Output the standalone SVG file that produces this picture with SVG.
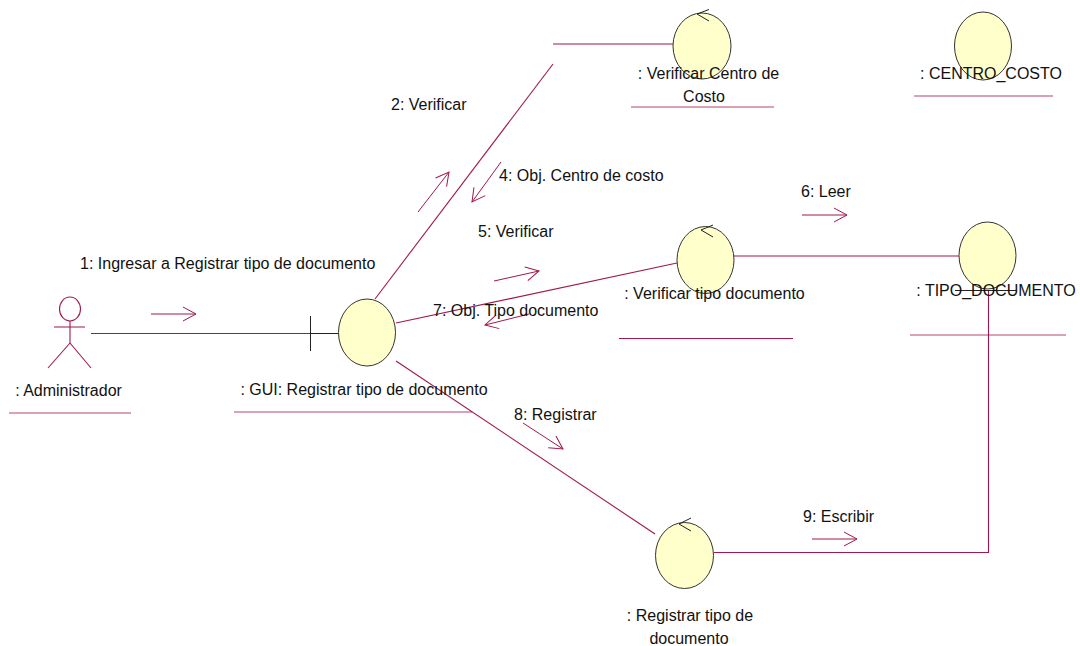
<svg xmlns="http://www.w3.org/2000/svg" width="1080" height="646" viewBox="0 0 1080 646">
<defs>
<marker id="open" markerUnits="userSpaceOnUse" markerWidth="16" markerHeight="16" refX="14" refY="8" orient="auto"><path d="M1,1 L14,8 L1,15" fill="none" stroke="#a0184e" stroke-width="1"/></marker>
</defs>
<style>
.c{fill:none;stroke:#a0184e;stroke-width:1.1}
.u{fill:none;stroke:#a0184e;stroke-width:1.2;opacity:.8}
.m{fill:none;stroke:#a0184e;stroke-width:1;marker-end:url(#open)}
.e{fill:#ffffcb;stroke:#333;stroke-width:1}
.k{fill:none;stroke:#222;stroke-width:1}
text{font-family:"Liberation Sans",Arial,sans-serif;font-size:16px;fill:#111}
.t{text-anchor:middle}
</style>
<rect width="1080" height="646" fill="#fff"/>
<g id="connectors">
<path class="c" d="M91,333.500H310"/>
<path class="c" d="M375,299L553,64"/>
<path class="c" d="M553,44H673"/>
<path class="c" d="M396,323L677,263"/>
<path class="c" d="M734,256H959"/>
<path class="c" d="M396,361L655,534"/>
<path class="c" d="M714,552.500H988.500V290"/>
<path class="m" d="M151,314H196"/>
<path class="m" d="M418,212L449,172"/>
<path class="m" d="M501,162L472,202"/>
<path class="m" d="M494,281L539,271"/>
<path class="m" d="M529,314L485,325"/>
<path class="m" d="M802,215H847"/>
<path class="m" d="M523,423L563,449"/>
<path class="m" d="M812,539H857"/>
</g>
<g id="actor-administrador">
<ellipse cx="70" cy="309" rx="10.500" ry="12" fill="#fff" stroke="#a0184e" stroke-width="1.100"/>
<path class="c" d="M70,321V343M54,327H85M70,343L48,368M70,343L91,368"/>
<text x="68.500" y="396" class="t">: Administrador</text>
<path class="u" d="M9,413H131"/>
</g>
<g id="gui-registrar">
<path class="k" d="M310.500,316V351M310.500,333.500H339"/>
<ellipse class="e" cx="367" cy="332.500" rx="28.500" ry="33.500"/>
<text x="364" y="395" class="t">: GUI: Registrar tipo de documento</text>
<path class="u" d="M234,412H472"/>
</g>
<g id="verificar-centro">
<ellipse class="e" cx="702" cy="46" rx="29" ry="33"/>
<path class="k" d="M709,9.500L697,14L709,21"/>
<text x="708.500" y="79" class="t">: Verificar Centro de</text>
<text x="704" y="102" class="t">Costo</text>
<path class="u" d="M631,107H774"/>
</g>
<g id="centro-costo">
<ellipse class="e" cx="983" cy="46" rx="28.500" ry="34"/>
<text x="991" y="79" class="t">: CENTRO_COSTO</text>
<path class="u" d="M914,96H1053"/>
</g>
<g id="verificar-tipo">
<ellipse class="e" cx="705.500" cy="260" rx="28.500" ry="33.500"/>
<path class="k" d="M713,225L701,230L713,237"/>
<text x="714.500" y="299" class="t">: Verificar tipo documento</text>
<path class="c" d="M619,338.500H793"/>
</g>
<g id="tipo-documento">
<ellipse class="e" cx="987.500" cy="255.500" rx="28.500" ry="33.500"/>
<path class="k" d="M955,290.500H1017"/>
<text x="996" y="296" class="t">: TIPO_DOCUMENTO</text>
<path class="u" d="M910,335H1066"/>
</g>
<g id="registrar-tipo">
<ellipse class="e" cx="684.500" cy="555.500" rx="29" ry="33"/>
<path class="k" d="M691,518L679,524L691,531"/>
<text x="690" y="621" class="t">: Registrar tipo de</text>
<text x="689" y="644" class="t">documento</text>
</g>
<g id="labels">
<text x="80" y="269">1: Ingresar a Registrar tipo de documento</text>
<text x="391" y="110">2: Verificar</text>
<text x="499" y="181">4: Obj. Centro de costo</text>
<text x="478" y="237">5: Verificar</text>
<text x="801" y="197">6: Leer</text>
<text x="433" y="316">7: Obj. Tipo documento</text>
<text x="514" y="420">8: Registrar</text>
<text x="803" y="522">9: Escribir</text>
</g>
</svg>
